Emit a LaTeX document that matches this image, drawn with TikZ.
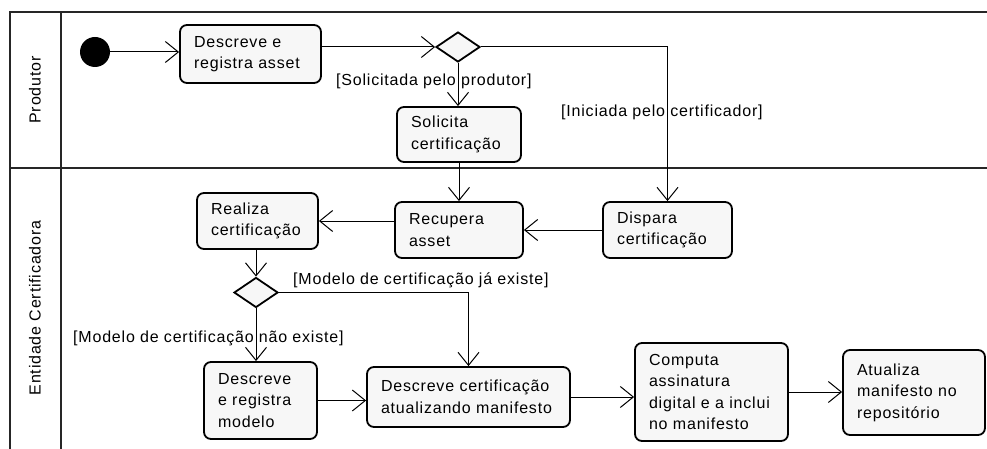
\documentclass[tikz,border=0pt]{standalone}
\usepackage{fontspec}
\setmainfont{Liberation Sans}[LetterSpace=5]
\usetikzlibrary{arrows.meta,shapes.geometric}
\begin{document}
\begin{tikzpicture}[x=1pt,y=-1pt,
  font=\fontsize{16}{21.5}\selectfont,
  act/.style={draw=black, line width=1.8pt, rounded corners=7pt, fill=gray!6, align=left, inner xsep=14pt, inner ysep=0pt},
  dec/.style={draw=black, diamond, line width=1.8pt, fill=gray!6, inner sep=0pt, minimum width=44pt, minimum height=30pt},
  flow/.style={line width=1pt, -{Straight Barb[length=13pt,width=21pt]}},
  lane/.style={line width=2.2pt, black!85},
  guard/.style={inner sep=0pt, anchor=base west},
]
\useasboundingbox (0,0) rectangle (987,449);
% swimlanes
\draw[lane] (10,449) -- (10,12) -- (987,12);
\draw[lane] (61,12) -- (61,449);
\draw[lane] (10,168) -- (987,168);
\node[rotate=90] (lp) at (35,90) {Produtor};
\node[rotate=90] (le) at (35,308) {Entidade Certificadora};
% nodes
\node[circle, fill=black, minimum size=30pt, inner sep=0pt] (start) at (95,52) {};
\node[act, text width=113pt, minimum height=58pt] (b1) at (250.5,54) {Descreve~e\\registra~asset};
\node[dec] (d1) at (458,47) {};
\node[act, text width=96pt, minimum height=55pt] (sol) at (459,134.5) {Solicita\\certificação};
\node[act, text width=100pt, minimum height=56pt] (rec) at (459,230) {Recupera\\asset};
\node[act, text width=101pt, minimum height=56pt] (disp) at (667.5,230) {Dispara\\certificação};
\node[act, text width=93pt, minimum height=56pt] (real) at (257.5,221) {Realiza\\certificação};
\node[dec] (d2) at (256,292.5) {};
\node[act, text width=85pt, minimum height=77pt] (dm) at (260.5,400.5) {Descreve\\e~registra\\modelo};
\node[act, text width=175pt, minimum height=60pt] (dc) at (468.5,397) {Descreve~certificação\\atualizando~manifesto};
\node[act, text width=125pt, minimum height=98pt] (comp) at (711.5,392) {Computa\\assinatura\\digital~e~a~inclui\\no~manifesto};
\node[act, text width=114pt, minimum height=85pt] (atu) at (914,392.5) {Atualiza\\manifesto~no\\repositório};
% guards
\node[guard] (g1) at (336,86) {[Solicitada pelo produtor]};
\node[guard] (g2) at (561,117) {[Iniciada pelo certificador]};
\node[guard] (g3) at (293,284) {[Modelo de certificação já existe]};
\node[guard] (g4) at (73,342) {[Modelo de certificação não existe]};
% flows
\draw[flow] (start.east) -- (start.east -| b1.west);
\draw[flow] (b1.east |- d1.west) -- (d1.west);
\draw[flow] (d1.south) -- (d1.south |- sol.north);
\draw[flow] (d1.east) -| (disp.north);
\draw[flow] (sol.south) -- (sol.south |- rec.north);
\draw[flow] (disp.west) -- (disp.west -| rec.east);
\draw[flow] (rec.west |- real.east) -- (real.east);
\draw[flow] (real.south -| d2.north) -- (d2.north);
\draw[flow] (d2.east) -| (dc.north);
\draw[flow] (d2.south) -- (d2.south |- dm.north);
\draw[flow] (dm.east) -- (dm.east -| dc.west);
\draw[flow] (dc.east) -- (dc.east -| comp.west);
\draw[flow] (comp.east) -- (comp.east -| atu.west);
\end{tikzpicture}
\end{document}
